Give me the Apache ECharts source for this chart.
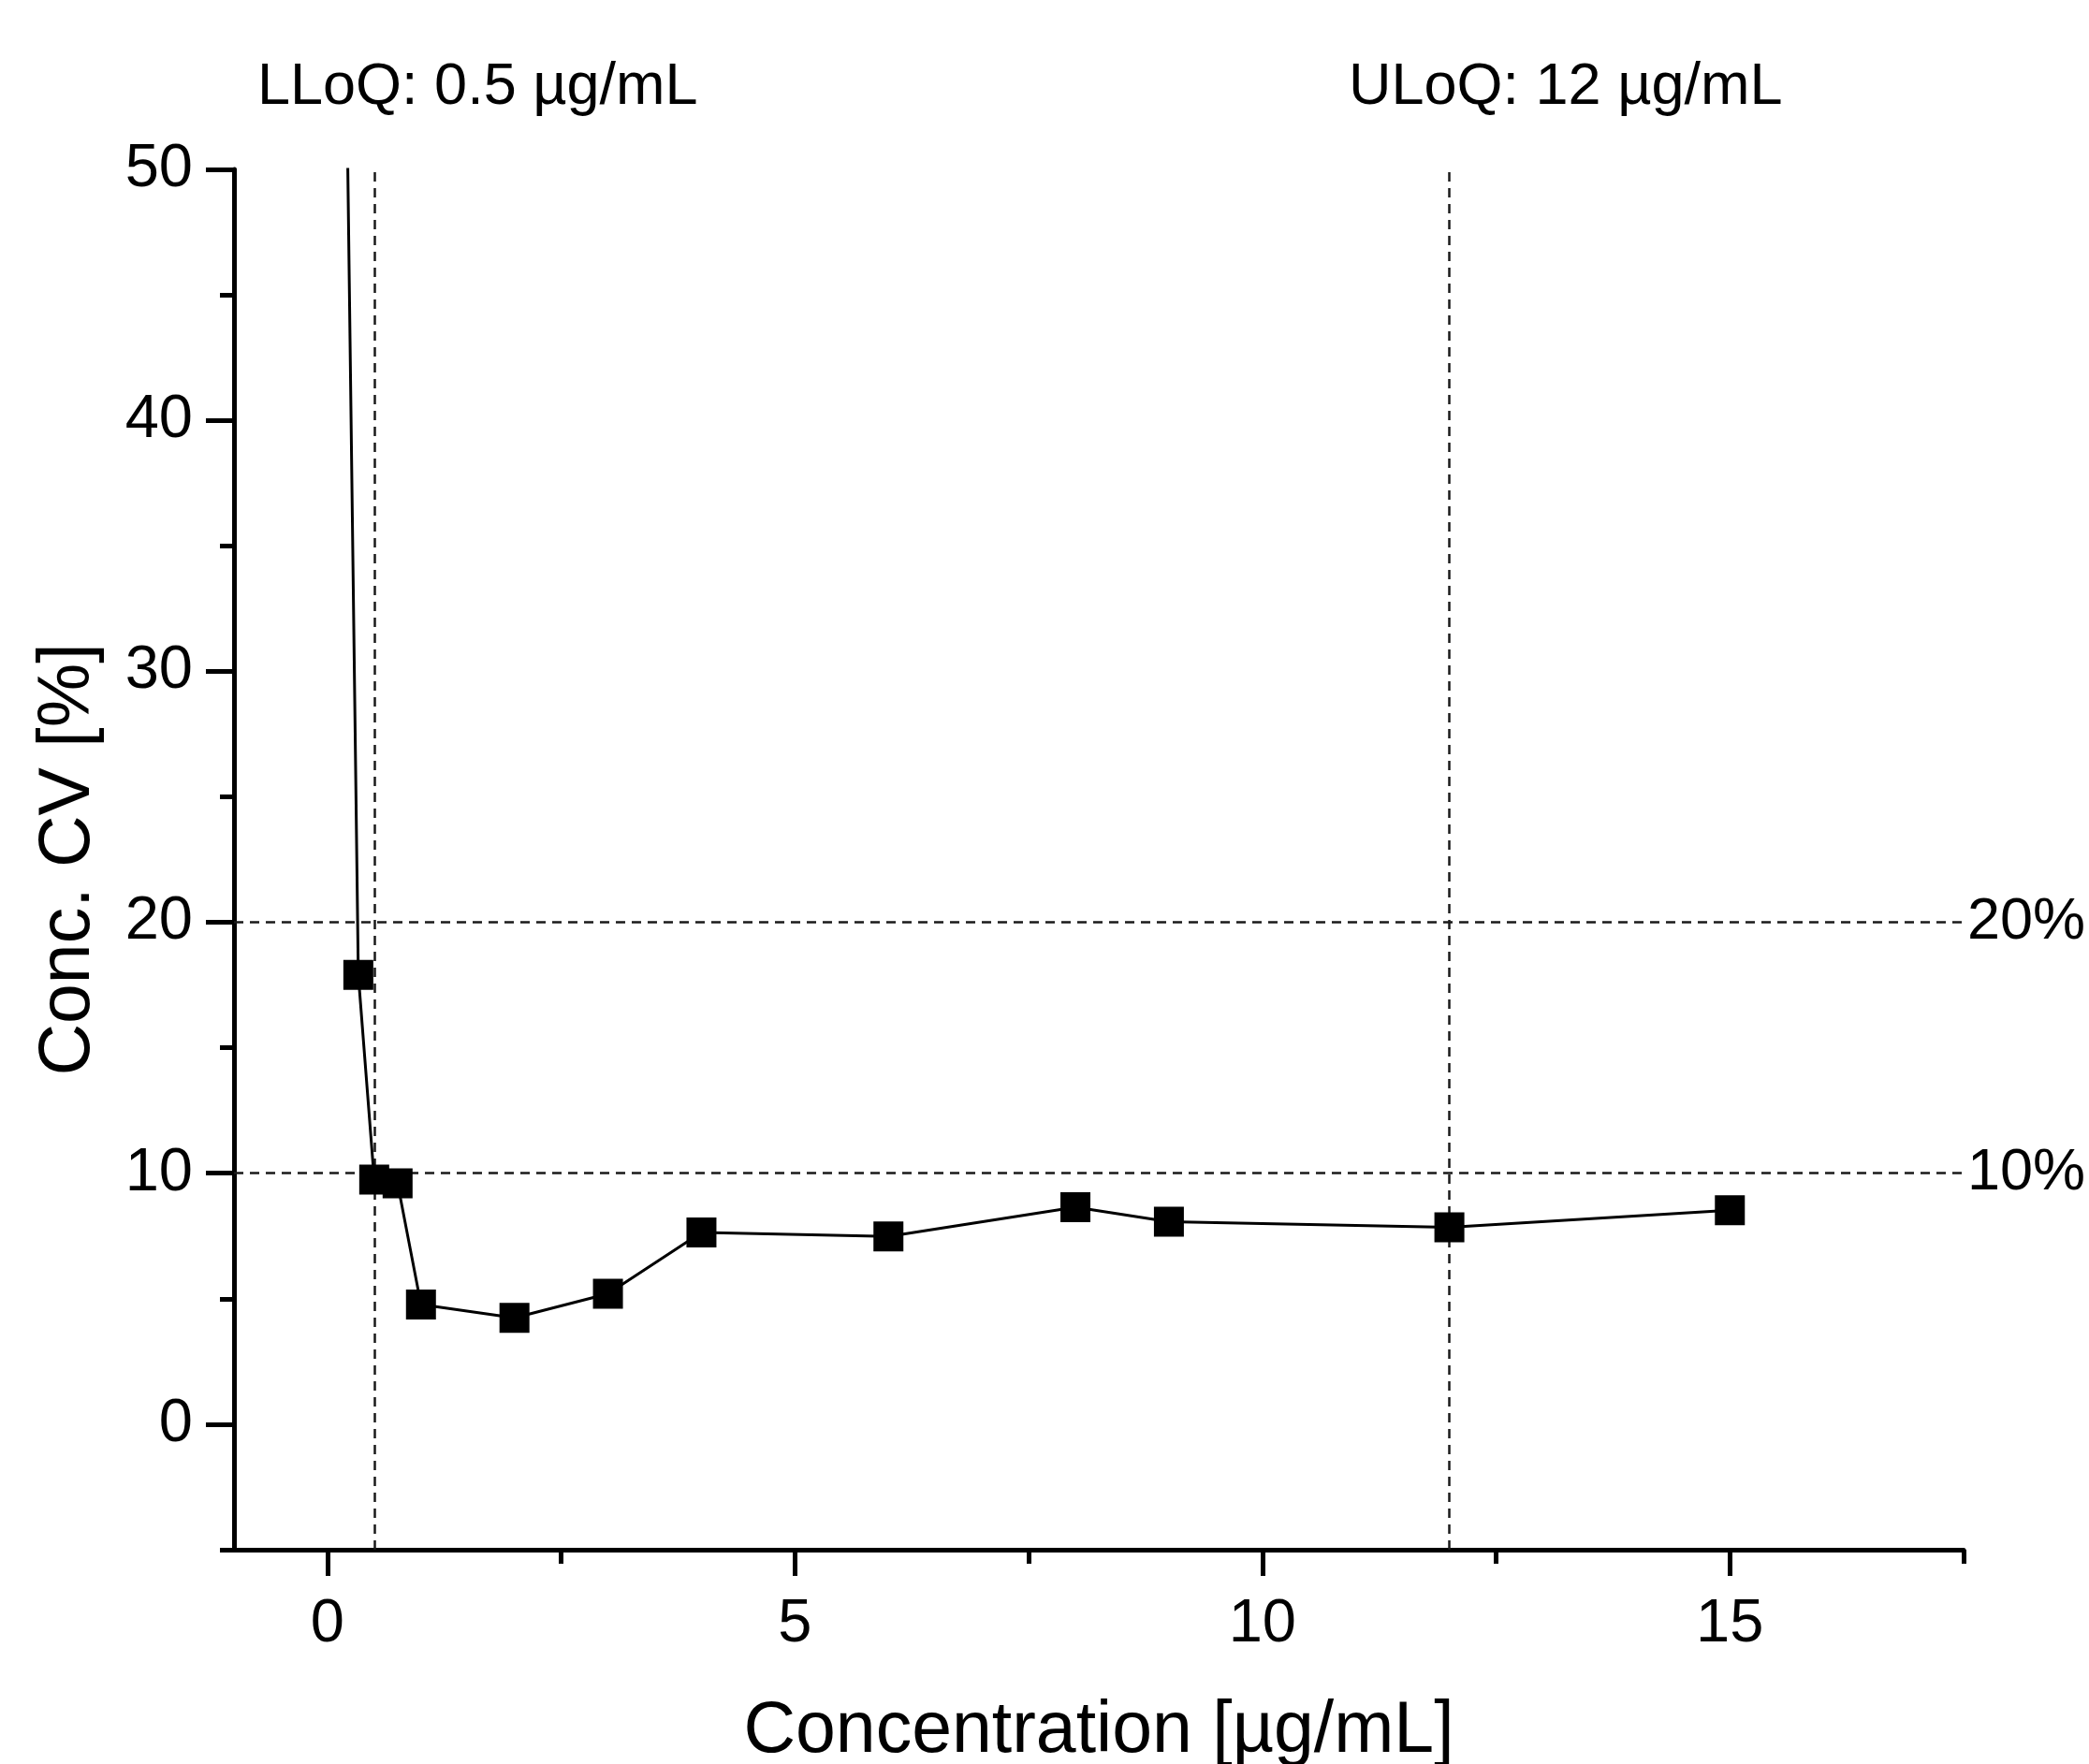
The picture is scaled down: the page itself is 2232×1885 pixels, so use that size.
<!DOCTYPE html>
<html>
<head>
<meta charset="utf-8">
<script src="https://cdn.jsdelivr.net/npm/echarts@6/dist/echarts.min.js"></script>
<style>
html,body{margin:0;padding:0;background:#fff;}
#chart{width:2232px;height:1885px;}
</style>
</head>
<body>
<div id="chart"></div>
<script>
// Data
const concentrations = [0.2, 0.33, 0.5, 0.75, 1, 2, 3, 4, 6, 8, 9, 12, 15];
const cvValues = [55, 17.9, 9.75, 9.6, 4.77, 4.24, 5.2, 7.64, 7.48, 8.65, 8.07, 7.85, 8.53];
const xMajorTicks = [0, 5, 10, 15];
const xMinorTicks = [2.5, 7.5, 12.5, 17.5];
const yMajorTicks = [0, 10, 20, 30, 40, 50];
const yMinorTicks = [-5, 5, 15, 25, 35, 45];
const limitLevels = [20, 10];           // horizontal CV limits (%)
const limitLabels = ['20%', '10%'];
const quantLimits = [0.5, 12];          // LLoQ, ULoQ (µg/mL)
const quantLabels = ['LLoQ: 0.5 µg/mL', 'ULoQ: 12 µg/mL'];
const xRange = [-1, 17.5];
const yRange = [-5, 50];

const FONT = 'Liberation Sans, Arial, sans-serif';
const chart = echarts.init(document.getElementById('chart'));

const dashStyle = { color: '#1a1a1a', width: 2.5, type: [10, 7] };

const markLineData = [];
limitLevels.forEach((v, i) => {
  markLineData.push([
    { coord: [xRange[0], v],
      label: { show: true, position: 'end', formatter: limitLabels[i],
               fontSize: 63, fontFamily: FONT, color: '#000', distance: 4 } },
    { coord: [xRange[1], v] }
  ]);
});
quantLimits.forEach(v => {
  markLineData.push([
    { coord: [v, yRange[0]], label: { show: false } },
    { coord: [v, yRange[1]] }
  ]);
});

const AXW = 5;
const axisCommonLine = { show: true, onZero: false, lineStyle: { color: '#000', width: AXW } };

chart.setOption({
  animation: false,
  backgroundColor: '#fff',
  grid: { left: 250, right: 134, top: 181, bottom: 229, containLabel: false, outerBoundsMode: 'none' },
  xAxis: [
    {
      type: 'value', min: xRange[0], max: xRange[1], position: 'bottom',
      axisLine: axisCommonLine,
      axisTick: { show: true, inside: false, length: 28, customValues: xMajorTicks,
                  lineStyle: { color: '#000', width: AXW } },
      axisLabel: { show: true, customValues: xMajorTicks, fontSize: 65, margin: 48,
                   color: '#000', fontFamily: FONT },
      splitLine: { show: false },
      name: 'Concentration [µg/mL]', nameLocation: 'middle', nameGap: 156,
      nameTextStyle: { fontSize: 77, fontFamily: FONT, color: '#000' }
    },
    {
      type: 'value', min: xRange[0], max: xRange[1], position: 'bottom', gridIndex: 0,
      axisLine: { show: false, onZero: false },
      axisTick: { show: true, inside: false, length: 15, customValues: xMinorTicks,
                  lineStyle: { color: '#000', width: AXW } },
      axisLabel: { show: false },
      splitLine: { show: false }
    }
  ],
  yAxis: [
    {
      type: 'value', min: yRange[0], max: yRange[1], position: 'left',
      axisLine: axisCommonLine,
      axisTick: { show: true, inside: false, length: 30, customValues: yMajorTicks,
                  lineStyle: { color: '#000', width: AXW } },
      axisLabel: { show: true, customValues: yMajorTicks, fontSize: 65, margin: 44,
                   color: '#000', fontFamily: FONT },
      splitLine: { show: false },
      name: 'Conc. CV [%]', nameLocation: 'middle', nameGap: 138,
      nameTextStyle: { fontSize: 77, fontFamily: FONT, color: '#000' }
    },
    {
      type: 'value', min: yRange[0], max: yRange[1], position: 'left', gridIndex: 0,
      axisLine: { show: false, onZero: false },
      axisTick: { show: true, inside: false, length: 15, customValues: yMinorTicks,
                  lineStyle: { color: '#000', width: AXW } },
      axisLabel: { show: false },
      splitLine: { show: false }
    }
  ],
  graphic: [
    { type: 'text', left: 275, top: 62,
      style: { text: quantLabels[0], fontSize: 63, fontFamily: FONT, fill: '#000' } },
    { type: 'text', left: 1441, top: 62,
      style: { text: quantLabels[1], fontSize: 63, fontFamily: FONT, fill: '#000' } }
  ],
  series: [
    {
      type: 'line',
      xAxisIndex: 0, yAxisIndex: 0,
      data: concentrations.map((c, i) => [c, cvValues[i]]),
      symbol: 'rect', symbolSize: 32,
      showAllSymbol: true,
      clip: true,
      lineStyle: { color: '#000', width: 3 },
      itemStyle: { color: '#000' },
      z: 5,
      markLine: {
        silent: true, symbol: ['none', 'none'],
        lineStyle: dashStyle,
        label: { show: false },
        data: markLineData,
        z: 3
      }
    }
  ]
});
</script>
</body>
</html>
